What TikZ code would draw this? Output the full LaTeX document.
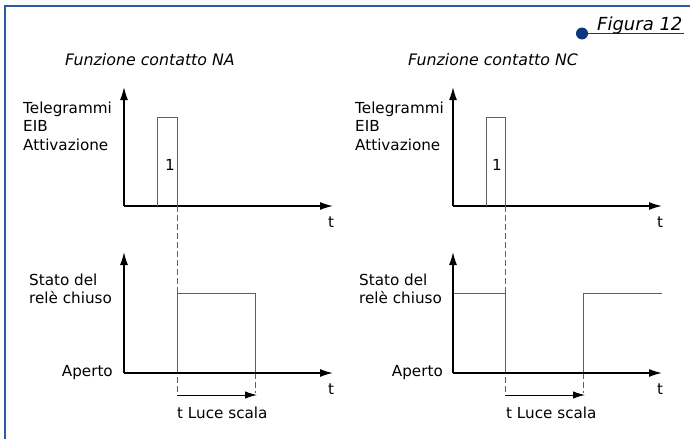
\documentclass[tikz,border=0pt]{standalone}
\usepackage{fontspec}
\setmainfont{DejaVu Sans}
\usetikzlibrary{arrows.meta}
\definecolor{frameblue}{RGB}{45,90,160}
\definecolor{dotblue}{RGB}{10,55,125}
\definecolor{sig}{RGB}{95,95,95}
\begin{document}
\begin{tikzpicture}[x=1pt,y=-1pt,
  axis/.style={line width=1.4pt,-{Latex[length=13pt,width=8pt]}},
  signal/.style={line width=0.9pt,sig},
  guide/.style={line width=0.8pt,sig,dash pattern=on 6pt off 3pt},
  span/.style={line width=1pt,-{Latex[length=12pt,width=7.5pt]}},
  lbl/.style={font=\fontsize{15.2}{18}\selectfont,inner sep=0pt},
  ttl/.style={font=\fontsize{15.8}{18}\itshape,inner sep=0pt},
]
\useasboundingbox (0,0) rectangle (693,439);
% frame
\draw[frameblue,line width=1.8pt] (5,439) -- (5,5.8) -- (690,5.8);
% figure tag
\coordinate (dot) at (582,33.5);
\coordinate (tagend) at (684,33.5);
\draw[dotblue,line width=1pt] (dot) -- (tagend);
\fill[dotblue] (dot) circle (6);
\node[ttl,font=\fontsize{18}{20}\itshape,anchor=base west] (fig) at (597,30) {Figura 12};
% titles
\node[ttl,anchor=base west] (tNA) at (65,65) {Funzione contatto NA};
\node[ttl,anchor=base west] (tNC) at (408,65) {Funzione contatto NC};

% ===== left upper =====
\coordinate (oA) at (124,206);
\coordinate (yA) at (124,87);
\coordinate (xA) at (333,206);
\draw[axis] (oA) -- (yA);
\draw[axis] (oA) -- (xA);
\draw[signal] (157,206) -- (157,117) -- (177,117) -- (177,206);
\node[lbl] (oneA) at (170,165) {1};
\node[lbl,anchor=base] (tA) at (331,227) {t};
\node[lbl,anchor=base west] (a1) at (23,113.3) {Telegrammi};
\node[lbl,anchor=base west] (a2) at (23,131.7) {EIB};
\node[lbl,anchor=base west] (a3) at (23,150) {Attivazione};
\draw[guide] (177,206) -- (177,393);

% ===== left lower =====
\coordinate (oB) at (124,373);
\coordinate (yB) at (124,252);
\coordinate (xB) at (333,373);
\draw[guide] (255,373) -- (255,393);
\draw[signal] (177,373) -- (177,293) -- (255,293) -- (255,373);
\draw[axis] (oB) -- (yB);
\draw[axis] (oB) -- (xB);
\coordinate (sB1) at (177,395);
\coordinate (sB2) at (257,395);
\draw[span] (sB1) -- (sB2);
\node[lbl,anchor=base west] (lB) at (177,418) {t Luce scala};
\node[lbl,anchor=base] (tB) at (331,394) {t};
\node[lbl,anchor=base west] (b1) at (29,285) {Stato del};
\node[lbl,anchor=base west] (b2) at (29,303.3) {relè chiuso};
\node[lbl,anchor=base east] (b3) at (113,376.7) {Aperto};

% ===== right upper =====
\coordinate (oC) at (453,206);
\coordinate (yC) at (453,87);
\coordinate (xC) at (662,206);
\draw[axis] (oC) -- (yC);
\draw[axis] (oC) -- (xC);
\draw[signal] (486,206) -- (486,117) -- (505,117) -- (505,206);
\node[lbl] (oneC) at (497,165) {1};
\node[lbl,anchor=base] (tC) at (660,227) {t};
\node[lbl,anchor=base west] (c1) at (355,113.3) {Telegrammi};
\node[lbl,anchor=base west] (c2) at (355,131.7) {EIB};
\node[lbl,anchor=base west] (c3) at (355,150) {Attivazione};
\draw[guide] (505,206) -- (505,393);

% ===== right lower =====
\coordinate (oD) at (453,373);
\coordinate (yD) at (453,252);
\coordinate (xD) at (662,373);
\draw[guide] (583,373) -- (583,393);
\draw[signal] (453,293) -- (505,293) -- (505,373);
\draw[signal] (583,373) -- (583,293) -- (662,293);
\draw[axis] (oD) -- (yD);
\draw[axis] (oD) -- (xD);
\coordinate (sD1) at (505,395);
\coordinate (sD2) at (585,395);
\draw[span] (sD1) -- (sD2);
\node[lbl,anchor=base west] (lD) at (506,418) {t Luce scala};
\node[lbl,anchor=base] (tD) at (660,394) {t};
\node[lbl,anchor=base west] (d1) at (359,285) {Stato del};
\node[lbl,anchor=base west] (d2) at (359,303.3) {relè chiuso};
\node[lbl,anchor=base east] (d3) at (443,376.7) {Aperto};
\end{tikzpicture}
\end{document}
